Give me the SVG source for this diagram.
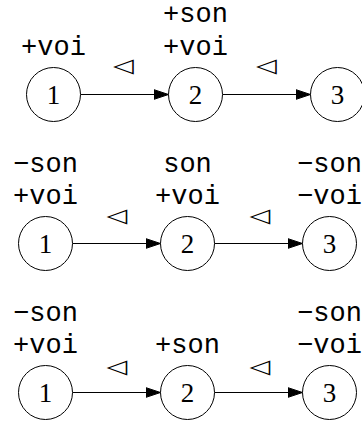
<svg xmlns="http://www.w3.org/2000/svg" width="362" height="421" viewBox="0 0 362 421">
<style>
.n{fill:#fff;stroke:#000;stroke-width:1}
.num{font-family:"Liberation Serif","Times New Roman",serif;font-size:27px;text-anchor:middle;fill:#000}
.lab{font-family:"Liberation Mono","Courier New",monospace;font-size:27px;text-anchor:middle;fill:#000}
.e{stroke:#000;stroke-width:1;fill:none}
.tri{font-family:"DejaVu Sans",sans-serif;font-size:27px;text-anchor:middle;fill:#000}
</style>
<defs>
<marker id="ah" markerUnits="userSpaceOnUse" markerWidth="16" markerHeight="12" refX="15" refY="5.5" orient="auto">
<path d="M0,0.5 L15,5.5 L0,10.5 z" fill="#000" stroke="#000" stroke-width="1"/>
</marker>
</defs>
<g id="connectors">
<line class="e" x1="80.5" y1="94.5" x2="168.5" y2="94.5" marker-end="url(#ah)"/>
<line class="e" x1="222.5" y1="94.5" x2="310.5" y2="94.5" marker-end="url(#ah)"/>
<text class="tri" transform="translate(123.5,66.7) scale(1,0.72)" x="0" y="7.5">◁︎</text>
<text class="tri" transform="translate(266.5,66.7) scale(1,0.72)" x="0" y="7.5">◁︎</text>
<line class="e" x1="72.5" y1="243.5" x2="160.5" y2="243.5" marker-end="url(#ah)"/>
<line class="e" x1="214.5" y1="243.5" x2="302.5" y2="243.5" marker-end="url(#ah)"/>
<text class="tri" transform="translate(117,216.5) scale(1,0.72)" x="0" y="7.5">◁︎</text>
<text class="tri" transform="translate(260,216.5) scale(1,0.72)" x="0" y="7.5">◁︎</text>
<line class="e" x1="72.5" y1="392.5" x2="160.5" y2="392.5" marker-end="url(#ah)"/>
<line class="e" x1="214.5" y1="392.5" x2="302.5" y2="392.5" marker-end="url(#ah)"/>
<text class="tri" transform="translate(117,367.5) scale(1,0.72)" x="0" y="7.5">◁︎</text>
<text class="tri" transform="translate(260,367.5) scale(1,0.72)" x="0" y="7.5">◁︎</text>
</g>
<g id="r1n1"><circle class="n" cx="53.5" cy="94.5" r="27"/><text class="num" x="53.5" y="103.5">1</text><text class="lab" x="53.5" y="55">+voi</text></g>
<g id="r1n2"><circle class="n" cx="195.5" cy="94.5" r="27"/><text class="num" x="195.5" y="103.5">2</text><text class="lab" x="195.5" y="22">+son</text><text class="lab" x="195.5" y="55">+voi</text></g>
<g id="r1n3"><circle class="n" cx="337.5" cy="94.5" r="27"/><text class="num" x="337.5" y="103.5">3</text></g>
<g id="r2n1"><circle class="n" cx="45.5" cy="243.5" r="27"/><text class="num" x="45.5" y="252.5">1</text><text class="lab" x="45.5" y="171.5">−son</text><text class="lab" x="45.5" y="203.5">+voi</text></g>
<g id="r2n2"><circle class="n" cx="187.5" cy="243.5" r="27"/><text class="num" x="187.5" y="252.5">2</text><text class="lab" x="187.5" y="171.5">son</text><text class="lab" x="187.5" y="203.5">+voi</text></g>
<g id="r2n3"><circle class="n" cx="329.5" cy="243.5" r="27"/><text class="num" x="329.5" y="252.5">3</text><text class="lab" x="329.5" y="171.5">−son</text><text class="lab" x="329.5" y="203.5">−voi</text></g>
<g id="r3n1"><circle class="n" cx="45.5" cy="392.5" r="27"/><text class="num" x="45.5" y="401.5">1</text><text class="lab" x="45.5" y="320.5">−son</text><text class="lab" x="45.5" y="352.5">+voi</text></g>
<g id="r3n2"><circle class="n" cx="187.5" cy="392.5" r="27"/><text class="num" x="187.5" y="401.5">2</text><text class="lab" x="187.5" y="352.5">+son</text></g>
<g id="r3n3"><circle class="n" cx="329.5" cy="392.5" r="27"/><text class="num" x="329.5" y="401.5">3</text><text class="lab" x="329.5" y="320.5">−son</text><text class="lab" x="329.5" y="352.5">−voi</text></g>
</svg>
